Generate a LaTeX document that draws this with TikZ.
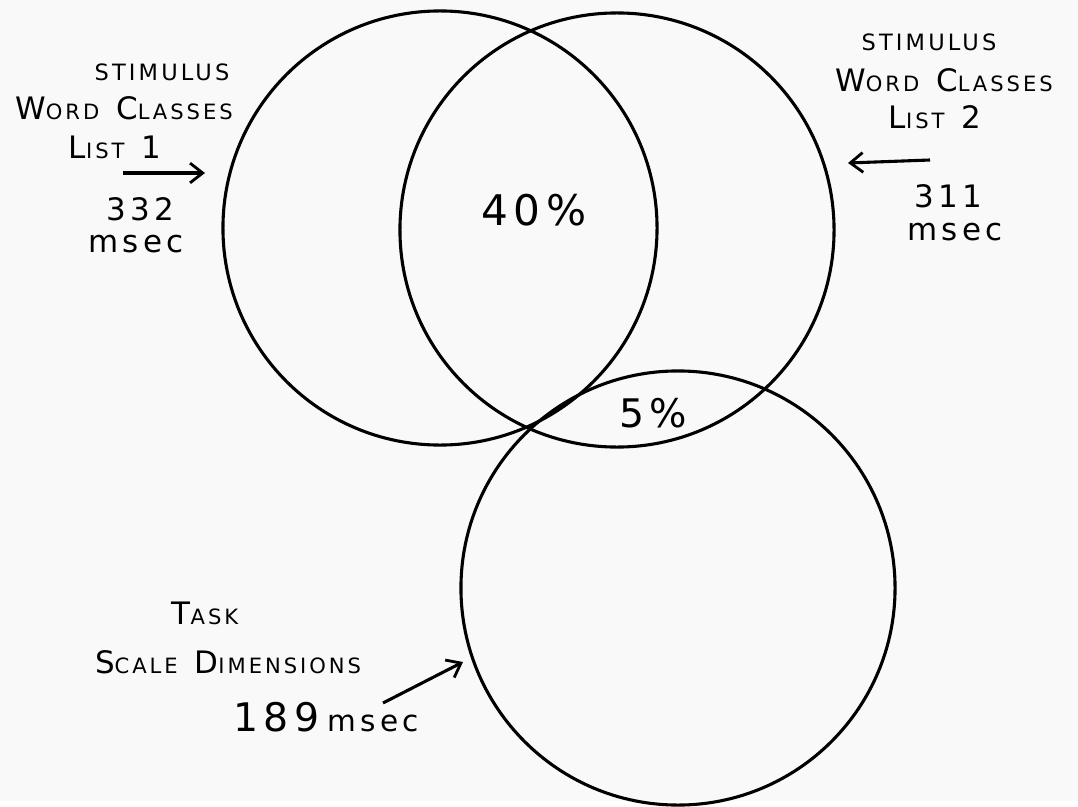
\documentclass[tikz,border=0pt]{standalone}
\usepackage{fontspec}
\setmainfont{DejaVu Sans}
\newfontfamily\hand[LetterSpace=14]{DejaVu Sans}
\usetikzlibrary{arrows.meta}

% big first letter, smaller rest (hand-lettered small caps)
\newcommand{\hcap}[2]{{\fontsize{22}{22}\selectfont #1}{\fontsize{15}{15}\selectfont #2}}
\newcommand{\gap}{\hspace{12pt}}

\begin{document}
\begin{tikzpicture}[
    x=0.025cm, y=-0.025cm,
    every node/.style={font=\hand, inner sep=0pt},
    setcircle/.style={draw, circle, line width=2.2pt, minimum size=10.85cm},
    caps/.style={font=\hand, align=center},
    small/.style={font=\hand\fontsize{16}{16}\selectfont},
    num/.style={font=\hand\fontsize{22}{22}\selectfont},
    pct/.style={font=\hand\fontsize{30}{30}\selectfont},
    arr/.style={-{Straight Barb[length=9pt,width=14pt,line width=2pt]}, line width=2.2pt}
]

% Paper
\fill[gray!5] (0,0) rectangle (1078,801);

% Circles
\node[setcircle] (list1) at (440,228) {};
\node[setcircle] (list2) at (617,230) {};
\node[setcircle] (task)  at (678,588) {};

% Overlap values
\node[pct] (p40) at (534,210) {40\%};
\node[pct, font=\hand\fontsize{28}{28}\selectfont] (p5) at (653,413) {5\%};

% Left labels
\node[small] (l1a) at (162,72)  {STIMULUS};
\node[caps]  (l1b) at (124,108) {\hcap{W}{ORD}\gap\hcap{C}{LASSES}};
\node[caps]  (l1c) at (115,147) {\hcap{L}{IST}\gap{\fontsize{22}{22}\selectfont 1}};
\node[num]   (t1)  at (140,209) {332};
\node[num]   (m1)  at (136,244) {msec};

% Right labels
\node[small] (l2a) at (929,42)  {STIMULUS};
\node[caps]  (l2b) at (944,80)  {\hcap{W}{ORD}\gap\hcap{C}{LASSES}};
\node[caps]  (l2c) at (935,117) {\hcap{L}{IST}\gap{\fontsize{22}{22}\selectfont 2}};
\node[num]   (t2)  at (948,196) {311};
\node[num]   (m2)  at (955,232) {msec};

% Bottom labels
\node[caps]  (l3a) at (205,613) {\hcap{T}{ASK}};
\node[caps]  (l3b) at (228,662) {\hcap{S}{CALE}\gap\hcap{D}{IMENSIONS}};
\node (t3) at (326,717) {{\fontsize{28}{28}\selectfont 189}\hspace{6pt}{\fontsize{21}{21}\selectfont msec}};

% Arrows
\coordinate (a1s) at (123,173);
\coordinate (a1e) at (205,173);
\coordinate (a2s) at (930,160);
\coordinate (a2e) at (848,163);
\coordinate (a3s) at (383,703);
\coordinate (a3e) at (463,662);
\draw[arr] (a1s) -- (a1e);
\draw[arr] (a2s) -- (a2e);
\draw[arr] (a3s) -- (a3e);

\end{tikzpicture}
\end{document}
